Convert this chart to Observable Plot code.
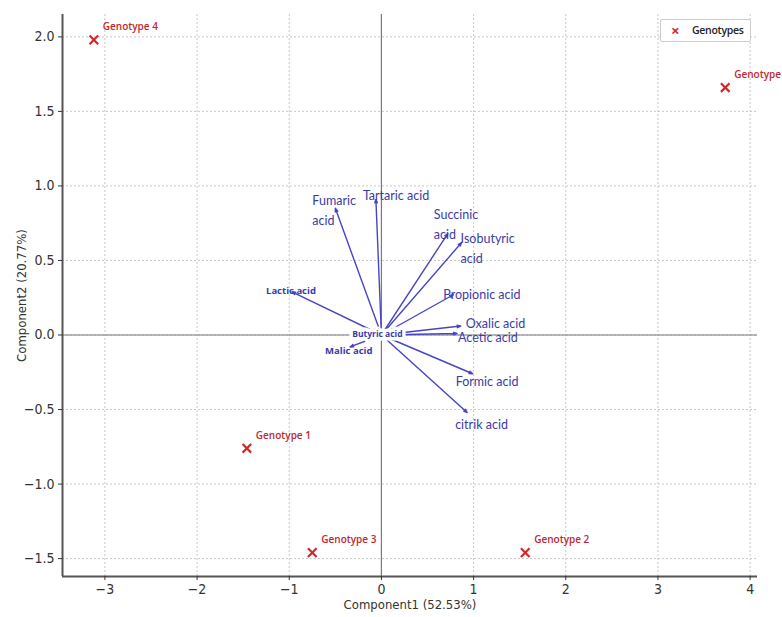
<!DOCTYPE html>
<html>
<head>
<meta charset="utf-8">
<script src="https://cdn.jsdelivr.net/npm/d3@7"></script>
<script src="https://cdn.jsdelivr.net/npm/@observablehq/plot@0.6"></script>
<style>
  html, body { margin: 0; padding: 0; background: #fff; }
  #wrap { position: relative; width: 782px; height: 617px; }
  #legend {
    position: absolute; left: 660px; top: 19px; width: 91px; height: 23px;
    border: 1px solid #ccc; border-radius: 2px; background: #fff;
    font-family: "Open Sans", sans-serif; font-size: 10.5px; font-weight: 600; color: #222;
    box-sizing: border-box;
  }
  #legend .mk { position: absolute; left: 10px; top: 2px; color: #d62728; font-size: 15px; font-weight: 700; line-height: 16px; }
  #legend .lb { position: absolute; left: 31px; top: 3px; line-height: 14px; letter-spacing: -0.3px; }
</style>
</head>
<body>
<div id="wrap"><div id="legend"><span class="mk">×</span><span class="lb">Genotypes</span></div></div>
<script>
// Genotype scores
const genotypes = ["Genotype 1", "Genotype 2", "Genotype 3", "Genotype 4", "Genotype 5"];
const genoX = [-1.46, 1.56, -0.75, -3.12, 3.73];
const genoY = [-0.76, -1.46, -1.46, 1.98, 1.66];

// Variable loadings
const acids = ["Tartaric acid", "Fumaric\nacid", "Succinic\nacid", "Isobutyric\nacid", "Propionic acid",
  "Oxalic acid", "Acetic acid", "Formic acid", "citrik acid", "Lactic acid", "Malic acid", "Butyric acid"];
const loadX = [-0.06, -0.50, 0.72, 0.87, 0.78, 0.86, 0.82, 0.99, 0.93, -0.97, -0.34, 0.03];
const loadY = [0.91, 0.85, 0.68, 0.62, 0.27, 0.06, 0.01, -0.26, -0.52, 0.29, -0.08, 0.0];

// Tick labels
const xTicks = [-3, -2, -1, 0, 1, 2, 3, 4];
const yTicks = [-1.5, -1.0, -0.5, 0.0, 0.5, 1.0, 1.5, 2.0];

const geno = genotypes.map((g, i) => ({name: g, x: genoX[i], y: genoY[i]}));
const load = acids.map((a, i) => ({name: a, x: loadX[i], y: loadY[i]}));

// label styling (pixel offsets per label)
const labelStyle = {
  "Tartaric acid": {dx: -13, dy: -6, big: true},
  "Fumaric\nacid": {dx: -23, dy: 0, big: true},
  "Succinic\nacid": {dx: -14, dy: -11, big: true},
  "Isobutyric\nacid": {dx: -1, dy: 4, big: true},
  "Propionic acid": {dx: -10, dy: -2, big: true},
  "Oxalic acid": {dx: 5, dy: -4, big: true},
  "Acetic acid": {dx: 1, dy: 2, big: true},
  "Formic acid": {dx: -17, dy: 6, big: true},
  "citrik acid": {dx: -12, dy: 10, big: true},
  "Lactic acid": {dx: -26, dy: -3, big: false},
  "Malic acid": {dx: -25, dy: 2, big: false}
};

const font = "'DejaVu Sans Condensed', 'Liberation Sans Narrow', 'DejaVu Sans', sans-serif";
const labFont = "Lato, 'Open Sans', sans-serif";
const arrowColor = "#4646c4";
const textColor = "#3b3ba8";

const marks = [
  Plot.gridX(xTicks, {stroke: "#c8c8c8", strokeOpacity: 1, strokeDasharray: "2,2"}),
  Plot.gridY(yTicks, {stroke: "#c8c8c8", strokeOpacity: 1, strokeDasharray: "2,2"}),
  Plot.ruleX([0], {stroke: "#7a7a7a", strokeWidth: 1.2}),
  Plot.ruleY([0], {stroke: "#7a7a7a", strokeWidth: 1.2}),
  Plot.arrow(load, {x1: () => 0, y1: () => 0, x2: "x", y2: "y", stroke: arrowColor, strokeWidth: 1.4, headLength: 4, headAngle: 40})
];

for (const d of load) {
  const s = labelStyle[d.name];
  if (!s) continue;
  marks.push(Plot.text([d], {
    x: "x", y: "y", text: "name", dx: s.dx, dy: s.dy, textAnchor: "start",
    fill: textColor, fontSize: s.big ? 12.5 : 9.5, fontWeight: s.big ? 400 : 700,
    fontFamily: s.big ? labFont : "'Open Sans', sans-serif", lineHeight: 1.6,
    letterSpacing: s.big ? "-0.35px" : "-0.5px"
  }));
}
marks.push(Plot.text(load.filter(d => d.name === "Butyric acid"), {
  x: () => 0, y: "y", text: "name", dx: -4, dy: -1, fill: textColor, fontSize: 8.5, fontWeight: 700,
  fontFamily: "'Open Sans', sans-serif", letterSpacing: "-0.4px", stroke: "white", strokeWidth: 7, strokeLinejoin: "round"
}));

marks.push(
  Plot.dot(geno, {x: "x", y: "y", symbol: "times", r: 4, stroke: "#d62728", strokeWidth: 2.2}),
  Plot.text(geno, {x: "x", y: "y", text: "name", dx: 9, dy: -13, textAnchor: "start", fill: "#c0282f",
    fontSize: 10, fontWeight: 600, fontFamily: "'Open Sans', sans-serif", letterSpacing: "-0.75px"}),
  Plot.ruleX([-3.46], {stroke: "#555", strokeWidth: 2}),
  Plot.ruleY([-1.62], {stroke: "#555", strokeWidth: 2}),
  Plot.axisX(xTicks, {tickSize: 4, tickPadding: 4, fontSize: 14, fontFamily: font, tickFormat: d3.format("d"),
    label: null}),
  Plot.axisY(yTicks, {tickSize: 4, tickPadding: 4, fontSize: 14, fontFamily: font, tickFormat: d3.format(".1f"),
    label: null}),
  Plot.axisX({label: "Component1 (52.53%)", ticks: [], tickSize: 0, labelAnchor: "center", labelArrow: "none", labelOffset: 32,
    fontSize: 13, fontFamily: font, dx: -8}),
  Plot.axisY({label: "Component2 (20.77%)", ticks: [], tickSize: 0, labelAnchor: "center", labelArrow: "none", labelOffset: 46,
    fontSize: 13, fontFamily: font})
);

const chart = Plot.plot({
  width: 782, height: 617,
  marginLeft: 62, marginRight: 25, marginTop: 14, marginBottom: 41,
  style: {fontFamily: font, fontSize: "13px", color: "#333", background: "white", overflow: "hidden"},
  x: {domain: [-3.46, 4.08]},
  y: {domain: [-1.62, 2.15]},
  marks
});
const wrap = document.getElementById("wrap");
wrap.insertBefore(chart, wrap.firstChild);
</script>
</body>
</html>
